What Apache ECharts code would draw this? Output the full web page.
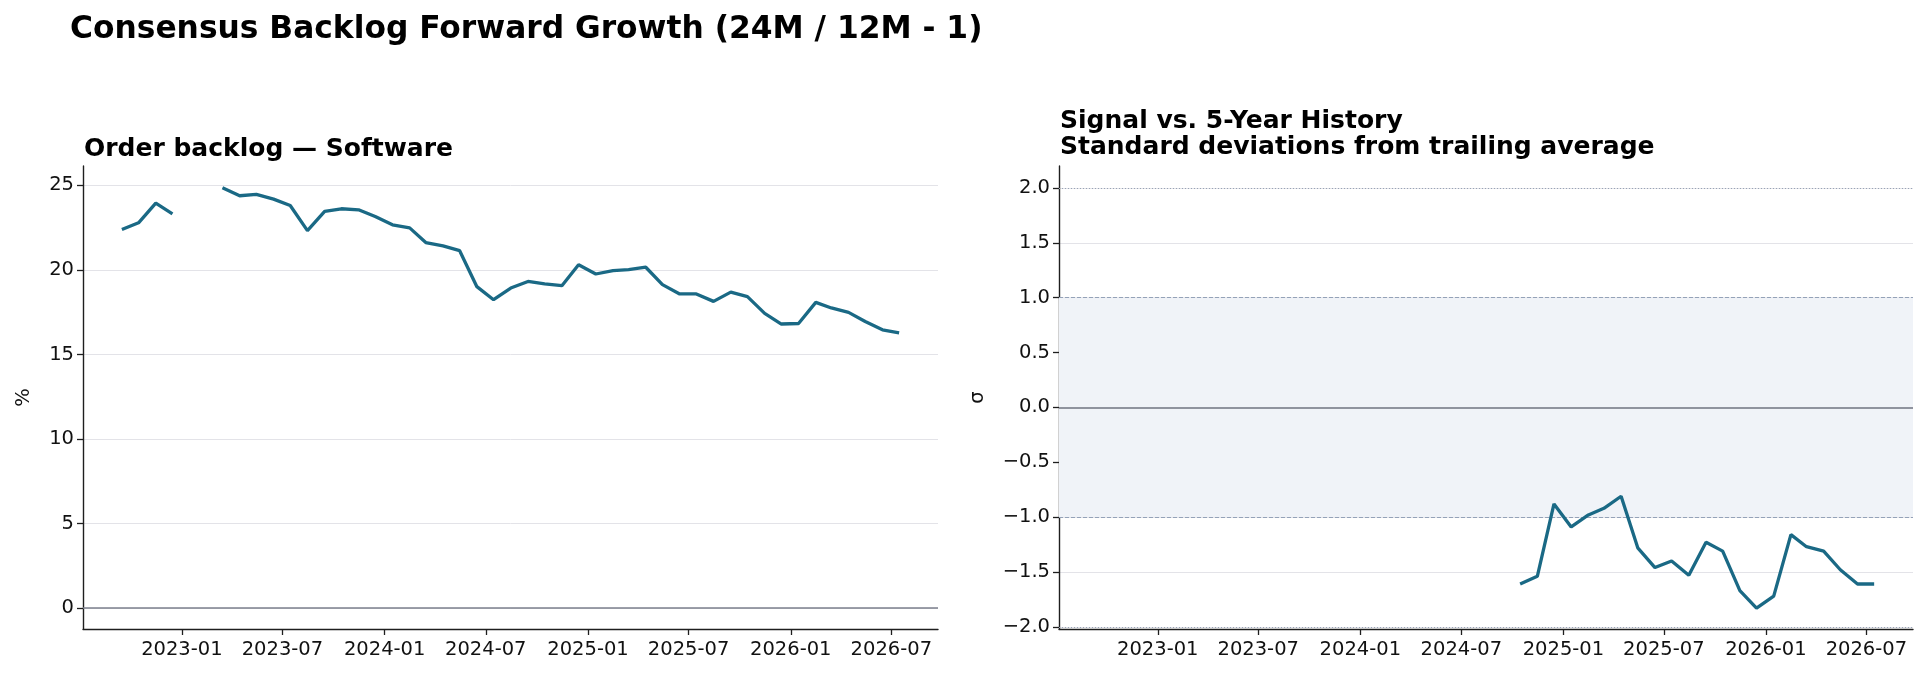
<!DOCTYPE html>
<html>
<head>
<meta charset="utf-8">
<title>Consensus Backlog Forward Growth</title>
<script src="https://cdn.jsdelivr.net/npm/echarts@6/dist/echarts.min.js"></script>
<style>
  html, body { margin: 0; padding: 0; background: #fff; }
  #main { width: 1928px; height: 679px; }
</style>
</head>
<body>
<div id="main"></div>
<script>
// monthly observations (mid-month)
const months = [
  '2022-09-15', '2022-10-15', '2022-11-15', '2022-12-15',
  '2023-01-15', '2023-02-15', '2023-03-15', '2023-04-15', '2023-05-15', '2023-06-15',
  '2023-07-15', '2023-08-15', '2023-09-15', '2023-10-15', '2023-11-15', '2023-12-15',
  '2024-01-15', '2024-02-15', '2024-03-15', '2024-04-15', '2024-05-15', '2024-06-15',
  '2024-07-15', '2024-08-15', '2024-09-15', '2024-10-15', '2024-11-15', '2024-12-15',
  '2025-01-15', '2025-02-15', '2025-03-15', '2025-04-15', '2025-05-15', '2025-06-15',
  '2025-07-15', '2025-08-15', '2025-09-15', '2025-10-15', '2025-11-15', '2025-12-15',
  '2026-01-15', '2026-02-15', '2026-03-15', '2026-04-15', '2026-05-15', '2026-06-15',
  '2026-07-15'
]

// order backlog growth, % (null = no consensus)
const backlogGrowth = [
  22.39, 22.79, 23.95, 23.32,
  null, null, 24.86, 24.39, 24.47, 24.19,
  23.81, 22.33, 23.46, 23.62, 23.56, 23.16,
  22.67, 22.49, 21.62, 21.42, 21.14, 19.01,
  18.24, 18.93, 19.32, 19.17, 19.07, 20.31,
  19.76, 19.96, 20.02, 20.16, 19.13, 18.58,
  18.58, 18.14, 18.69, 18.42, 17.43, 16.80,
  16.83, 18.08, 17.75, 17.49, 16.95, 16.46,
  16.28
]

// z-score vs trailing 5y, starts 2024-10
const sigmaMonths = months.slice(months.indexOf('2024-10-15'))
const sigmaValues = [
  -1.61, -1.54, -0.88, -1.09, -0.98, -0.92, -0.81, -1.28, -1.46, -1.40,
  -1.53, -1.23, -1.31, -1.67, -1.83, -1.72, -1.16, -1.27, -1.31, -1.48,
  -1.61, -1.61
]

const xTicks = ['2023-01-01', '2023-07-01', '2024-01-01', '2024-07-01', '2025-01-01', '2025-07-01', '2026-01-01', '2026-07-01']
const leftTicks = [0, 5, 10, 15, 20, 25]
const rightTicks = [-2, -1.5, -1, -0.5, 0, 0.5, 1, 1.5, 2]

const LINE = '#1a6985'
const GRID = '#e3e3e8'
const AXIS = '#1e1e1e'
const FONT = 'DejaVu Sans'
const TICK_SIZE = 19.5

const ts = (s) => echarts.time.parse(s).getTime()

const chart = echarts.init(document.getElementById('main'))

// dates go on a plain value axis (timestamps) so the ticks can be pinned
function xAxisFor(gridIndex) {
  return {
    type: 'value',
    gridIndex,
    min: ts('2022-07-07'),
    max: ts('2026-09-23'),
    axisLine: { show: true, onZero: false, lineStyle: { color: AXIS, width: 1.4 } },
    axisTick: { show: true, length: 6, lineStyle: { color: AXIS, width: 1.3 }, customValues: xTicks.map(ts) },
    axisLabel: {
      customValues: xTicks.map(ts),
      formatter: (v) => echarts.time.format(v, '{yyyy}-{MM}', false),
      color: '#111',
      fontFamily: FONT,
      fontSize: TICK_SIZE,
      margin: 11
    },
    splitLine: { show: false }
  }
}

function yAxisFor(gridIndex, min, max, ticks, name, nameGap, fmt) {
  return {
    type: 'value',
    gridIndex,
    min,
    max,
    name,
    nameLocation: 'middle',
    nameGap,
    nameRotate: 90,
    nameTextStyle: { color: '#111', fontFamily: FONT, fontSize: TICK_SIZE },
    axisLine: { show: true, lineStyle: { color: AXIS, width: 1.4 } },
    axisTick: { show: true, length: 6, lineStyle: { color: AXIS, width: 1.3 }, customValues: ticks },
    axisLabel: {
      customValues: ticks,
      formatter: fmt,
      color: '#111',
      fontFamily: FONT,
      fontSize: TICK_SIZE,
      margin: 9
    },
    splitLine: { show: true, lineStyle: { color: GRID, width: 1 } }
  }
}

const option = {
  animation: false,
  backgroundColor: '#fff',
  title: [
    {
      text: 'Consensus Backlog Forward Growth (24M / 12M - 1)',
      left: 70,
      top: 14,
      padding: 0,
      textStyle: { fontFamily: FONT, fontSize: 31.3, fontWeight: 'bold', color: '#000' }
    },
    {
      text: 'Order backlog — Software',
      left: 84,
      top: 137,
      padding: 0,
      textStyle: { fontFamily: FONT, fontSize: 25, fontWeight: 'bold', color: '#000' }
    },
    {
      text: 'Signal vs. 5-Year History\nStandard deviations from trailing average',
      left: 1060,
      top: 108,
      padding: 0,
      textStyle: { fontFamily: FONT, fontSize: 25, fontWeight: 'bold', color: '#000', lineHeight: 26 }
    }
  ],
  grid: [
    { left: 83, top: 166, width: 855, height: 463 },
    { left: 1059, top: 166, width: 854, height: 463 }
  ],
  xAxis: [xAxisFor(0), xAxisFor(1)],
  yAxis: [
    yAxisFor(0, -1.245, 26.15, leftTicks, '%', 49, (v) => String(v)),
    yAxisFor(1, -2.02, 2.2, rightTicks, 'σ', 71, (v) => v.toFixed(1).replace('-', '\u2212'))
  ],
  series: [
    {
      name: 'Order backlog',
      type: 'line',
      xAxisIndex: 0,
      yAxisIndex: 0,
      data: months.map((m, i) => [ts(m), backlogGrowth[i]]),
      showSymbol: false,
      connectNulls: false,
      lineStyle: { color: LINE, width: 3.3 },
      z: 5,
      markLine: {
        silent: true,
        symbol: 'none',
        label: { show: false },
        lineStyle: { color: '#7b7f8c', width: 1.5, type: 'solid' },
        data: [{ yAxis: 0 }]
      }
    },
    {
      name: 'Signal',
      type: 'line',
      xAxisIndex: 1,
      yAxisIndex: 1,
      data: sigmaMonths.map((m, i) => [ts(m), sigmaValues[i]]),
      showSymbol: false,
      lineStyle: { color: LINE, width: 3.3 },
      z: 5,
      markArea: {
        silent: true,
        itemStyle: { color: '#f0f3f8' },
        data: [[{ yAxis: -1 }, { yAxis: 1 }]]
      },
      markLine: {
        silent: true,
        symbol: 'none',
        label: { show: false },
        data: [
          { yAxis: 0, lineStyle: { color: '#6f7380', width: 1.5, type: 'solid' } },
          { yAxis: 1, lineStyle: { color: '#94a2b8', width: 1.1, type: [4, 2] } },
          { yAxis: -1, lineStyle: { color: '#94a2b8', width: 1.1, type: [4, 2] } },
          { yAxis: 2, lineStyle: { color: '#98a4b6', width: 1, type: [1, 2] } },
          { yAxis: -2, lineStyle: { color: '#98a4b6', width: 1, type: [1, 2] } }
        ]
      }
    }
  ]
}

chart.setOption(option)
</script>
</body>
</html>
